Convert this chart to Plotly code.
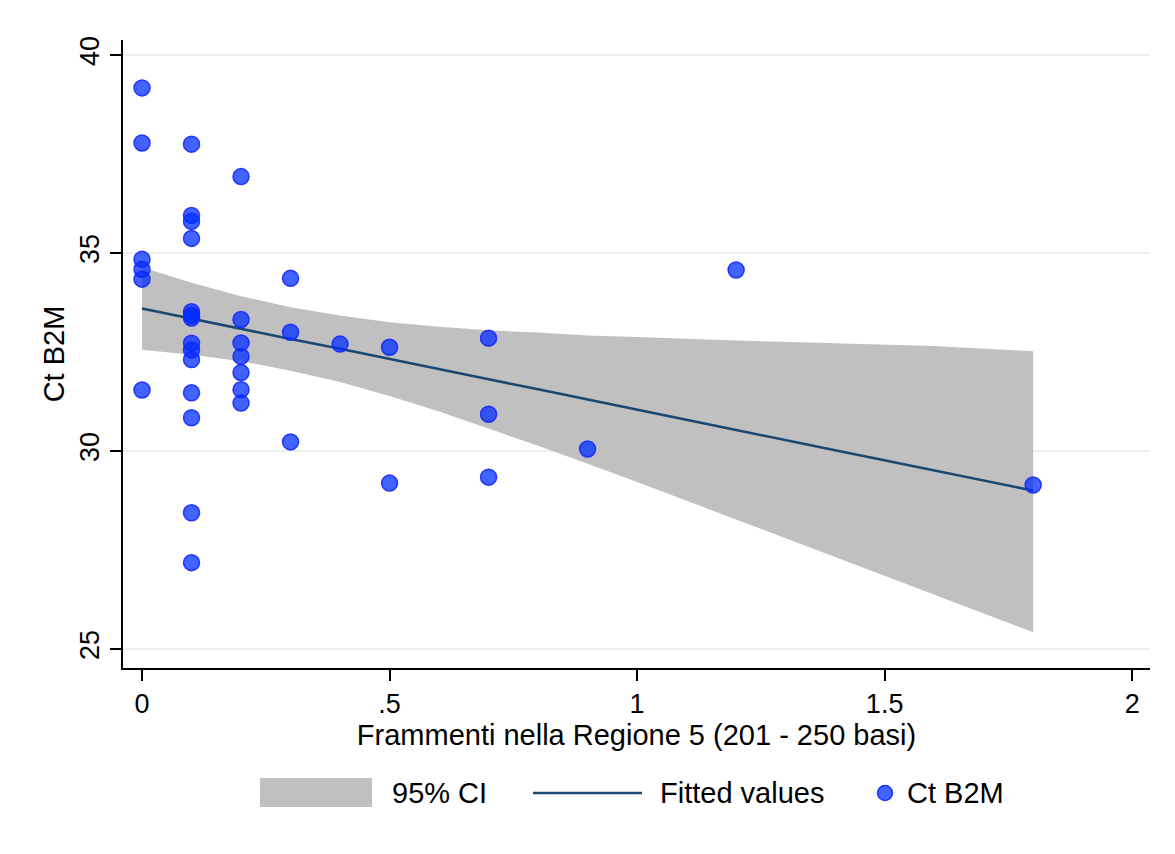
import plotly.graph_objects as go

# ---- data ----
frammenti = [0, 0, 0, 0, 0, 0,
             0.1, 0.1, 0.1, 0.1, 0.1, 0.1, 0.1, 0.1, 0.1, 0.1, 0.1, 0.1, 0.1, 0.1,
             0.2, 0.2, 0.2, 0.2, 0.2, 0.2, 0.2,
             0.3, 0.3, 0.3,
             0.4,
             0.5, 0.5,
             0.7, 0.7, 0.7,
             0.9,
             1.2,
             1.8]
ct_b2m = [39.17, 37.78, 34.84, 34.59, 34.34, 31.54,
          37.75, 35.95, 35.80, 35.37, 33.52, 33.43, 33.36, 32.72, 32.55, 32.31, 31.47, 30.84, 28.44, 27.18,
          36.93, 33.32, 32.73, 32.39, 31.98, 31.55, 31.21,
          34.36, 33.00, 30.23,
          32.70,
          32.62, 29.19,
          32.85, 30.93, 29.34,
          30.05,
          34.57,
          29.14]

fit_x = [0, 0.1, 0.2, 0.3, 0.4, 0.5, 0.6, 0.7, 0.8, 0.9, 1.0, 1.2, 1.4, 1.6, 1.8]
fit_y = [33.60, 33.34, 33.09, 32.83, 32.58, 32.32, 32.07, 31.81, 31.56, 31.30, 31.05, 30.53, 30.02, 29.51, 29.00]
ci_upper = [34.64, 34.25, 33.91, 33.63, 33.42, 33.25, 33.14, 33.05, 32.99, 32.92, 32.88, 32.79, 32.72, 32.65, 32.52]
ci_lower = [32.56, 32.43, 32.27, 32.03, 31.74, 31.39, 31.00, 30.57, 30.13, 29.68, 29.22, 28.27, 27.32, 26.37, 25.42]

x_ticks = [0, 0.5, 1, 1.5, 2]
x_tick_labels = ["0", ".5", "1", "1.5", "2"]
y_ticks = [25, 30, 35, 40]
y_tick_labels = ["25", "30", "35", "40"]

legend_labels = ["95% CI", "Fitted values", "Ct B2M"]

# ---- style ----
FONT = "Liberation Sans, Arial, Helvetica, sans-serif"
CI_COLOR = "#C0C0C0"
FIT_COLOR = "#1A476F"
PT_FILL = "rgba(0,45,255,0.74)"
PT_LINE = "rgba(20,40,255,0.9)"
GRID = "#E8F0F2"

W, H = 1175, 854
L, R, T, B = 123, 25, 40, 186
PW, PH = W - L - R, H - T - B

fig = go.Figure()

fig.add_trace(go.Scatter(x=fit_x, y=ci_lower, mode="lines", line=dict(width=0),
                         hoverinfo="skip", showlegend=False, name="lower"))
fig.add_trace(go.Scatter(x=fit_x, y=ci_upper, mode="lines", line=dict(width=0),
                         fill="tonexty", fillcolor=CI_COLOR, showlegend=False,
                         name=legend_labels[0]))
fig.add_trace(go.Scatter(x=fit_x, y=fit_y, mode="lines",
                         line=dict(color=FIT_COLOR, width=2.5), showlegend=False,
                         name=legend_labels[1]))
fig.add_trace(go.Scatter(x=frammenti, y=ct_b2m, mode="markers",
                         marker=dict(size=16, color=PT_FILL,
                                     line=dict(color=PT_LINE, width=1.5)),
                         showlegend=False, name=legend_labels[2]))


def px_x(p):
    return (p - L) / PW


def px_y(p):
    return (H - B - p) / PH


# manual legend (Stata-style, large keys)
leg_y = 793
fig.add_shape(type="rect", xref="paper", yref="paper",
              x0=px_x(260), x1=px_x(372), y0=px_y(807), y1=px_y(778),
              fillcolor=CI_COLOR, line=dict(width=0))
fig.add_shape(type="line", xref="paper", yref="paper",
              x0=px_x(533), x1=px_x(642), y0=px_y(leg_y), y1=px_y(leg_y),
              line=dict(color=FIT_COLOR, width=2.5))
fig.add_shape(type="circle", xref="paper", yref="paper",
              x0=px_x(885 - 7.5), x1=px_x(885 + 7.5),
              y0=px_y(leg_y + 7.5), y1=px_y(leg_y - 7.5),
              fillcolor=PT_FILL, line=dict(color=PT_LINE, width=1.5))
for txt, xp in zip(legend_labels, [390, 658, 905]):
    fig.add_annotation(text=txt, xref="paper", yref="paper",
                       x=px_x(xp), y=px_y(leg_y), xanchor="left", yanchor="middle",
                       showarrow=False, font=dict(family=FONT, size=29, color="black"))

fig.update_layout(
    width=W, height=H,
    margin=dict(l=L, r=R, t=T, b=B, autoexpand=False),
    paper_bgcolor="white", plot_bgcolor="white",
    font=dict(family=FONT, color="black"),
    showlegend=False,
)
fig.update_xaxes(
    range=[-0.0384, 2.036], tickmode="array", tickvals=x_ticks, ticktext=x_tick_labels,
    ticks="outside", ticklen=11, tickwidth=1.5, tickcolor="black",
    showline=True, linecolor="black", linewidth=1.5,
    showgrid=False, zeroline=False,
    tickfont=dict(family=FONT, size=27),
    title=dict(text="Frammenti nella Regione 5 (201 - 250 basi)",
               font=dict(family=FONT, size=29), standoff=5),
)
fig.update_yaxes(
    range=[24.52, 40.38], tickmode="array", tickvals=y_ticks, ticktext=y_tick_labels,
    ticks="outside", ticklen=11, tickwidth=1.5, tickcolor="black", tickangle=-90,
    showline=True, linecolor="black", linewidth=1.5,
    showgrid=True, gridcolor=GRID, gridwidth=2, zeroline=False,
    tickfont=dict(family=FONT, size=27),
    title=dict(text="Ct B2M", font=dict(family=FONT, size=29), standoff=2),
)

fig.write_html("out.html")
